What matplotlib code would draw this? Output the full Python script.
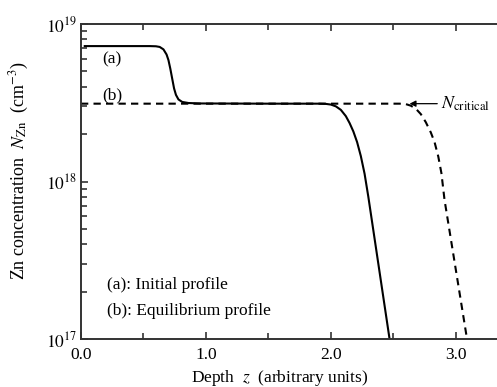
import matplotlib
matplotlib.use("Agg")
import matplotlib.pyplot as plt
from matplotlib.ticker import FixedLocator, NullFormatter

plt.rcParams['font.family'] = ['Liberation Serif', 'DejaVu Serif']
plt.rcParams['mathtext.fontset'] = 'stix'

# Curve (a): initial profile
z_a = [0.03, 0.55, 0.60, 0.63, 0.66, 0.685, 0.70, 0.715, 0.73, 0.745, 0.76, 0.78, 0.81,
       0.86, 0.95, 1.50, 1.90, 1.96, 2.00, 2.04, 2.08, 2.12, 2.15, 2.18, 2.21, 2.24,
       2.27, 2.30, 2.47]
n_a = [7.24e18, 7.24e18, 7.22e18, 7.15e18, 6.90e18, 6.40e18, 5.90e18, 5.20e18, 4.50e18,
       3.90e18, 3.55e18, 3.32e18, 3.20e18, 3.15e18, 3.13e18, 3.12e18, 3.12e18, 3.11e18,
       3.08e18, 3.00e18, 2.85e18, 2.60e18, 2.35e18, 2.08e18, 1.78e18, 1.45e18, 1.12e18,
       8.0e17, 1.0e17]

# Curve (b): equilibrium profile
z_b = [0.0, 1.0, 2.0, 2.55, 2.60, 2.64, 2.68, 2.72, 2.76, 2.80, 2.83, 2.86, 2.885,
       2.91, 3.09]
n_b = [3.12e18, 3.12e18, 3.12e18, 3.12e18, 3.10e18, 3.03e18, 2.90e18, 2.68e18, 2.38e18,
       2.05e18, 1.78e18, 1.44e18, 1.13e18, 7.64e17, 1.0e17]

xticks = [0.0, 1.0, 2.0, 3.0]
xticklabels = ["0.0", "1.0", "2.0", "3.0"]
yticks = [1e17, 1e18, 1e19]
yticklabels = [r'$10^{17}$', r'$10^{18}$', r'$10^{19}$']
yminor = [m * d for d in (1e17, 1e18) for m in range(2, 10)]

FS = 12.5

fig = plt.figure(figsize=(4.97, 3.87), dpi=100)
ax = fig.add_axes([81/497, 48/387, 1 - 81/497, 315/387])

ax.plot(z_a, n_a, color='black', lw=1.5, solid_joinstyle='round')
ax.plot(z_b, n_b, color='black', lw=1.5, linestyle=(0, (3.5, 2.5)))

ax.set_yscale('log')
ax.set_xlim(0, 3.33)
ax.set_ylim(1e17, 1e19)

ax.set_xticks(xticks)
ax.set_xticklabels(xticklabels)
ax.set_xticks([0.5, 1.5, 2.5], minor=True)
ax.yaxis.set_major_locator(FixedLocator(yticks))
ax.set_yticklabels(yticklabels)
ax.yaxis.set_minor_locator(FixedLocator(yminor))
ax.yaxis.set_minor_formatter(NullFormatter())

ax.spines['right'].set_visible(False)
for s in ['left', 'bottom', 'top']:
    ax.spines[s].set_linewidth(1.4)
    ax.spines[s].set_color('#333333')
ax.tick_params(which='both', direction='in', top=True, right=False, left=True,
               labelsize=FS, color='#333333', width=1.2)
ax.tick_params(which='major', length=5)
ax.tick_params(which='minor', length=4)
ax.tick_params(axis='x', pad=6)
ax.tick_params(axis='y', pad=3)

ax.set_xlabel(r'Depth  $z$  (arbitrary units)', fontsize=FS)
ax.xaxis.set_label_coords(0.477, -0.093)
ax.set_ylabel(r'Zn concentration  $N_{\mathrm{Zn}}$  (cm$^{-3}$)', fontsize=13)
ax.yaxis.set_label_coords(-0.12, 0.535)

ax.text(0.25, 6.0e18, '(a)', fontsize=FS, ha='center', va='center')
ax.text(0.25, 3.5e18, '(b)', fontsize=FS, ha='center', va='center')
ax.text(0.21, 2.2e17, '(a): Initial profile', fontsize=FS, ha='left', va='center')
ax.text(0.21, 1.5e17, '(b): Equilibrium profile', fontsize=FS, ha='left', va='center')

ax.annotate(r'$N_{\mathrm{critical}}$', xy=(2.63, 3.12e18), xytext=(2.885, 3.12e18),
            fontsize=13, ha='left', va='center',
            arrowprops=dict(arrowstyle='-|>', color='black', lw=0.9,
                            mutation_scale=9, shrinkA=1, shrinkB=0))

fig.savefig('out.png', dpi=100)
